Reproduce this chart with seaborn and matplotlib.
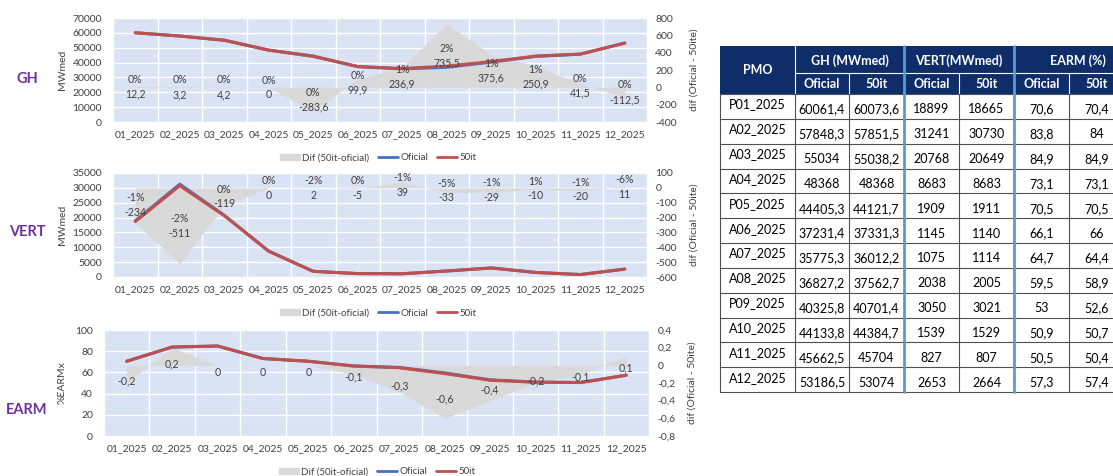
import matplotlib.pyplot as plt
import numpy as np
import seaborn as sns
from matplotlib.lines import Line2D
from matplotlib.patches import Patch, Rectangle
from matplotlib.ticker import FuncFormatter

# dados
meses = ['01_2025', '02_2025', '03_2025', '04_2025', '05_2025', '06_2025',
         '07_2025', '08_2025', '09_2025', '10_2025', '11_2025', '12_2025']
pmo = ['P01_2025', 'A02_2025', 'A03_2025', 'A04_2025', 'P05_2025', 'A06_2025',
       'A07_2025', 'A08_2025', 'P09_2025', 'A10_2025', 'A11_2025', 'A12_2025']

gh_oficial = [60061.4, 57848.3, 55034, 48368, 44405.3, 37231.4,
              35775.3, 36827.2, 40325.8, 44133.8, 45662.5, 53186.5]
gh_50it = [60073.6, 57851.5, 55038.2, 48368, 44121.7, 37331.3,
           36012.2, 37562.7, 40701.4, 44384.7, 45704, 53074]
gh_pct = ['0%', '0%', '0%', '0%', '0%', '0%', '1%', '2%', '1%', '1%', '0%', '0%']

vert_oficial = [18899, 31241, 20768, 8683, 1909, 1145,
                1075, 2038, 3050, 1539, 827, 2653]
vert_50it = [18665, 30730, 20649, 8683, 1911, 1140,
             1114, 2005, 3021, 1529, 807, 2664]
vert_pct = ['-1%', '-2%', '0%', '0%', '-2%', '0%', '-1%', '-5%', '-1%', '1%', '-1%', '-6%']

earm_oficial = [70.6, 83.8, 84.9, 73.1, 70.5, 66.1, 64.7, 59.5, 53, 50.9, 50.5, 57.3]
earm_50it = [70.4, 84, 84.9, 73.1, 70.5, 66, 64.4, 58.9, 52.6, 50.7, 50.4, 57.4]

# cores
FUNDO = '#DAE3F3'
CINZA = '#D9D9D9'
AZUL = '#4472C4'
VERMELHO = '#C0504D'
ROXO = '#7030A0'
NAVY = '#0F2D69'
AZUL_CLARO = '#5B9BD5'
TEXTO = '#404040'

W, H = 1113, 476

sns.set_style('white')
plt.rcParams['font.family'] = ['Lato', 'DejaVu Sans']
plt.rcParams['axes.unicode_minus'] = False

fig = plt.figure(figsize=(W / 100, H / 100), dpi=100)


def virgula(v):
    v = float(v) + 0.0
    return ('%g' % v).replace('.', ',')


def px(x0, y0, x1, y1):
    return [x0 / W, 1 - y1 / H, (x1 - x0) / W, (y1 - y0) / H]


def painel(rect, oficial, it50, pct, ylim, yticks, ylabel, ylim2, yticks2,
           ylab_x, ylab2_x, legend_xy, offset_label=0):
    x = np.arange(len(meses))
    dif = np.round(np.array(it50) - np.array(oficial), 1) + 0.0

    ax = fig.add_axes(rect)
    ax.set_facecolor(FUNDO)
    ax.set_xlim(-0.5, len(meses) - 0.5)
    ax.set_ylim(*ylim)
    ax.set_yticks(yticks)
    ax.set_xticks(x)
    ax.set_xticklabels(meses)
    ax.set_xticks(np.arange(-0.5, len(meses), 1), minor=True)
    ax.grid(which='major', axis='y', color='white', lw=1)
    ax.grid(which='minor', axis='x', color='white', lw=1)
    ax.grid(which='major', axis='x', visible=False)
    ax.tick_params(axis='both', which='both', length=0, labelsize=7.5, colors=TEXTO)
    ax.tick_params(axis='y', pad=8)
    ax.tick_params(axis='x', pad=6)
    ax.set_ylabel(ylabel, fontsize=7.5, color=TEXTO)
    ax.yaxis.set_label_coords(ylab_x, 0.5)
    for s in ax.spines.values():
        s.set_visible(False)

    ax2 = ax.twinx()
    ax2.fill_between(x, 0, dif, color=CINZA, lw=0)
    ax2.set_ylim(*ylim2)
    ax2.set_yticks(yticks2)
    ax2.yaxis.set_major_formatter(FuncFormatter(lambda v, p: virgula(round(v, 2))))
    ax2.tick_params(axis='y', length=0, labelsize=7.5, colors=TEXTO, pad=6)
    ax2.set_ylabel('dif (Oficial - 50ite)', fontsize=7.5, color=TEXTO)
    ax2.yaxis.set_label_coords(ylab2_x, 0.5)
    for s in ax2.spines.values():
        s.set_visible(False)

    ax3 = ax.twinx()
    sns.lineplot(x=x, y=oficial, ax=ax3, color=AZUL, lw=2.2)
    sns.lineplot(x=x, y=it50, ax=ax3, color=VERMELHO, lw=2.2)
    ax3.set_ylim(*ylim)
    ax3.set_axis_off()

    for i, d in enumerate(dif):
        txt = virgula(d) if pct is None else pct[i] + '\n' + virgula(d)
        ax3.annotate(txt, (i, d / 2), xycoords=ax2.transData,
                     xytext=(0, offset_label), textcoords='offset points',
                     ha='center', va='center', fontsize=7.6, color=TEXTO,
                     linespacing=1.4)

    handles = [Patch(color=CINZA, label='Dif (50it-oficial)'),
               Line2D([], [], color=AZUL, lw=2, label='Oficial'),
               Line2D([], [], color=VERMELHO, lw=2, label='50it')]
    fig.legend(handles=handles, loc='center',
               bbox_to_anchor=(legend_xy[0] / W, 1 - legend_xy[1] / H),
               ncol=3, frameon=False, fontsize=7, handlelength=2.1,
               handleheight=0.6, handletextpad=0.2, columnspacing=0.9,
               labelcolor=TEXTO)


painel(px(113, 18, 647, 122), gh_oficial, gh_50it, gh_pct,
       (0, 70000), np.arange(0, 70001, 10000), 'MWmed',
       (-400, 800), np.arange(-400, 801, 200), -0.086, 1.08, (378, 158))

painel(px(113, 173, 647, 277), vert_oficial, vert_50it, vert_pct,
       (0, 35000), np.arange(0, 35001, 5000), 'MWmed',
       (-600, 100), np.arange(-600, 101, 100), -0.086, 1.08, (378, 313))

painel(px(104, 330, 649, 436), earm_oficial, earm_50it, None,
       (0, 100), np.arange(0, 101, 20), '%EARMx',
       (-0.8, 0.4), np.round(np.arange(-0.8, 0.41, 0.2), 1), -0.068, 1.07, (377, 472),
       offset_label=-5)

for nome, yy in [('GH', 79), ('VERT', 232), ('EARM', 410)]:
    fig.text(27 / W, 1 - yy / H, nome, ha='center', va='center',
             fontsize=10.5, fontweight='bold', color=ROXO)

# tabela
tab = fig.add_axes([0, 0, 1, 1])
tab.set_xlim(0, W)
tab.set_ylim(H, 0)
tab.set_axis_off()

cols = [720, 795, 849, 904, 959, 1014, 1069, 1124]
h_top, h_mid, h_bot = 46, 73, 94
row_h = (392 - h_bot) / len(pmo)
bottom = h_bot + row_h * len(pmo)

tab.add_patch(Rectangle((cols[0], h_top), cols[-1] - cols[0], h_bot - h_top,
                        color=NAVY, lw=0))
tab.plot([cols[1], cols[1]], [h_top, h_bot], color='white', lw=0.8)
tab.plot([cols[1], cols[-1]], [h_mid, h_mid], color='white', lw=0.8)
for c in (cols[2], cols[4], cols[6]):
    tab.plot([c, c], [h_mid, h_bot], color='white', lw=0.8)

hdr = dict(ha='center', va='center', color='white', fontsize=9, fontweight='bold')
tab.text((cols[0] + cols[1]) / 2, (h_top + h_bot) / 2, 'PMO', **hdr)
grupos = ['GH (MWmed)', 'VERT(MWmed)', 'EARM (%)']
for g, nome in enumerate(grupos):
    xc = (cols[1 + 2 * g] + cols[3 + 2 * g]) / 2
    if g == 2:
        xc = 1078
    tab.text(xc, (h_top + h_mid) / 2 + 1, nome, **hdr)
    tab.text((cols[1 + 2 * g] + cols[2 + 2 * g]) / 2, (h_mid + h_bot) / 2 + 1, 'Oficial', **hdr)
    tab.text((cols[2 + 2 * g] + cols[3 + 2 * g]) / 2, (h_mid + h_bot) / 2 + 1, '50it', **hdr)

for i in range(len(pmo) + 1):
    yy = h_bot + i * row_h
    tab.plot([cols[0], cols[-1]], [yy, yy], color='#505050', lw=0.8)
for c in (cols[0], cols[1], cols[2], cols[4], cols[6]):
    tab.plot([c, c], [h_bot, bottom], color='#505050', lw=0.8)
for c in (cols[3], cols[5]):
    tab.plot([c, c], [h_top, bottom], color=AZUL_CLARO, lw=2)

tabela = [gh_oficial, gh_50it, vert_oficial, vert_50it, earm_oficial, earm_50it]
for i, nome in enumerate(pmo):
    yc = h_bot + (i + 0.5) * row_h
    tab.text((cols[0] + cols[1]) / 2, yc - 2, nome, ha='center', va='center',
             fontsize=9, color='black')
    for j, serie in enumerate(tabela):
        tab.text((cols[j + 1] + cols[j + 2]) / 2, yc + 3, virgula(serie[i]),
                 ha='center', va='center', fontsize=9, color='black')

fig.savefig('out.png', dpi=100)
